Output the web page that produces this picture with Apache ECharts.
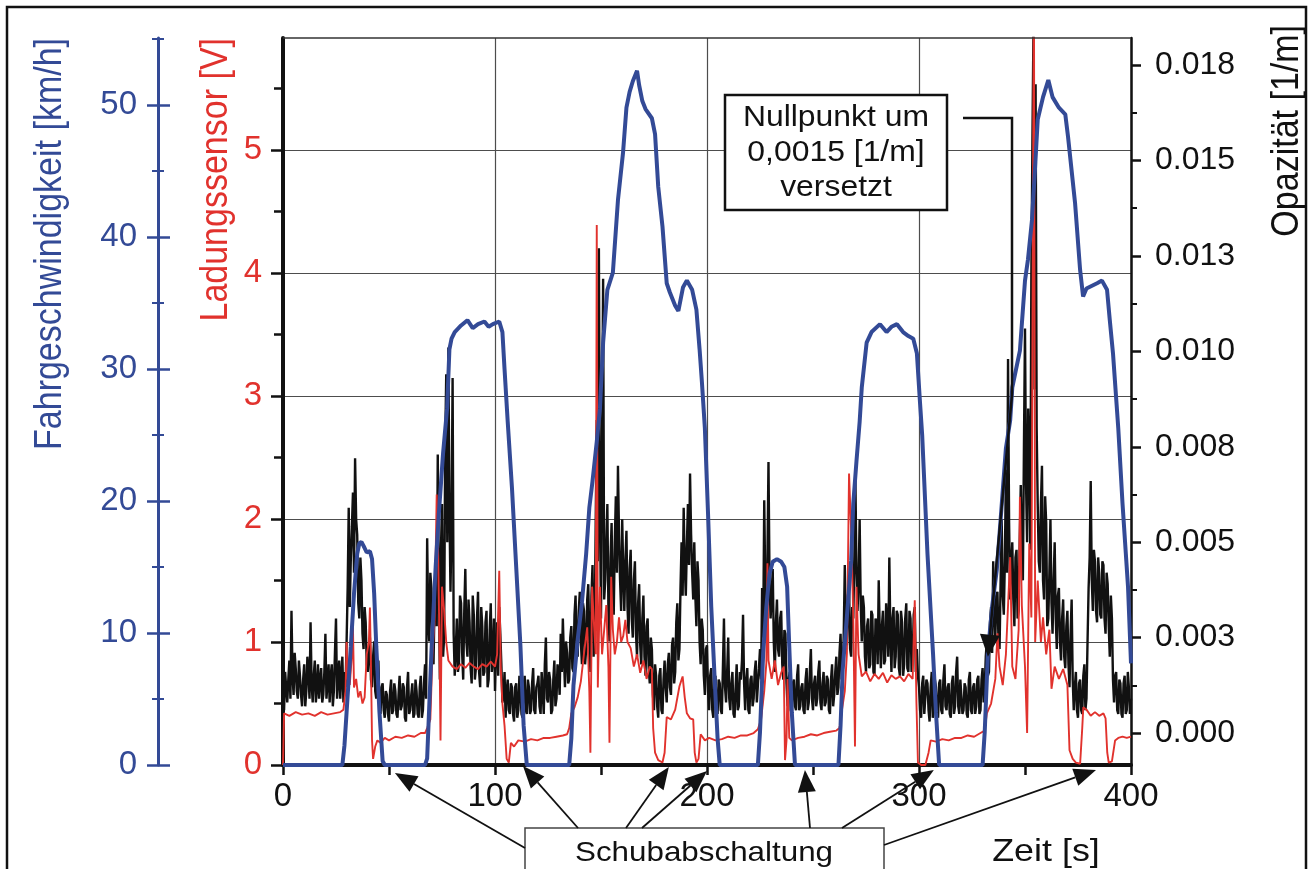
<!DOCTYPE html>
<html><head><meta charset="utf-8">
<script src="https://cdn.jsdelivr.net/npm/echarts@6/dist/echarts.min.js"></script>
<style>html,body{margin:0;padding:0;background:#fff;}#c{width:1312px;height:869px;}</style>
</head><body><div id="c"></div>
<script>
// ---------- data ----------
const timeTicks = [0, 100, 200, 300, 400];                 // s
const speedTicks = [0, 10, 20, 30, 40, 50];                 // km/h
const speedMinorTicks = [5, 15, 25, 35, 45, 55];
const chargeTicks = [0, 1, 2, 3, 4, 5];                     // V
const chargeMinorTicks = [0.5, 1.5, 2.5, 3.5, 4.5, 5.5];
const opacityTicks = [0, 2.5, 5, 7.5, 10, 12.5, 15, 17.5];  // 1e-3 1/m
const opacityTickLabels = ['0.000','0.003','0.005','0.008','0.010','0.013','0.015','0.018'];
const opacityMinorTicks = [1.25, 3.75, 6.25, 8.75, 11.25, 13.75, 16.25];

// vehicle speed [t s, km/h]
const speed = [
 [0,0],[28,0],[29,1.5],[30,4],[32,9],[33.5,13],[35,16],[36,16.8],[37,16.9],[38,16.6],[39.5,16.1],[41,16.2],[42,15.6],[43,13],[44,9],[45.5,4],[47,0.3],[48,0],
 [67,0],[68,0.5],[70,8.5],[72,15],[73.5,19],[75.5,23.6],[77.4,27],[78.5,31.5],[79.5,32.3],[81,32.8],[84,33.3],[87,33.7],[89.5,33.1],[92,33.4],[95,33.6],[97,33.2],[99,33.4],[102,33.6],[103.5,32.8],[104.5,30],[106,26],[108,21],[110,15],[112,9],[113.5,3],[115,0],
 [135,0],[136,2],[137,6],[139,9.5],[141,12.3],[143,16],[144.5,19.5],[146,21.5],[148,24.5],[149.5,27],[151,32],[153,36],[155.6,37.3],[158,42.8],[160.4,46.4],[162,49.8],[163.5,51],[165,51.8],[167,52.6],[168,51.5],[169.5,50.3],[171,49.7],[174,49],[175.5,47.8],[177,43.8],[179,40.8],[181,36.5],[182.5,35.8],[185,34.8],[186.5,34.4],[188.7,36.2],[190.5,36.7],[193,36],[195,34.5],[196.5,31.5],[197.6,29],[199,25.5],[200.5,19],[202,12],[203.8,5.9],[205,2],[206,0],
 [224,0],[225,2.5],[226.5,8.5],[228,12],[229.5,14.5],[231,15.4],[233,15.6],[235,15.4],[236.5,15],[237.8,13.5],[238.8,9],[240,4],[241.5,0],
 [262,0],[263,3],[264,7.2],[266.5,12.3],[268,15.5],[269,19.8],[270.5,23],[272,26],[273,28.6],[275.3,32],[277.6,32.8],[281.6,33.4],[284.7,32.8],[287,33.2],[289.6,33.4],[292.5,32.8],[295,32.5],[297.3,32.3],[299,31.2],[300.5,27.4],[301.5,25],[304,16],[306.6,8.5],[308,4],[309.5,0],
 [330,0],[331,2.5],[332.5,8.5],[334.5,12],[336.7,14.8],[338,17.5],[339.6,21],[341,24],[343,26.1],[344,28.6],[347.6,31.4],[350,36.7],[351.4,38.3],[353.3,41.3],[354.7,45.1],[356,48.9],[358.5,50.6],[361,51.9],[363,50.6],[366,49.8],[369,49.3],[370.3,47.6],[373.6,42.6],[376,37.5],[377.4,35.5],[379,36.1],[384,36.5],[386.3,36.7],[388.7,36],[390,33.7],[391.5,31.2],[394,25.5],[396,19.8],[398.6,13.5],[400,7.7]
];

// charge sensor [t s, V]
const charge = [
 [0,0],[0.5,0.42],[3,0.4],[6,0.43],[9,0.41],[12,0.42],[15,0.40],[18,0.43],[21,0.41],[24,0.42],[27,0.43],[28.5,0.45],[29.5,0.6],[30,1.0],[30.5,0.7],[31.5,0.65],[32.5,0.9],[33,1.12],[33.5,0.63],[34.5,0.7],[35.5,0.55],[36.5,0.6],[37.5,0.5],[38.5,0.55],[39.5,0.9],[40.5,1.0],[41,1.28],[41.5,0.8],[42,0.2],[42.5,0.05],[43.5,0.15],[44.5,0.2],[46,0.18],[48,0.22],[50,0.2],[53,0.23],[56,0.22],[59,0.24],[62,0.23],[65,0.26],[67,0.26],
 [68,0.3],[69.5,0.37],[70.5,0.9],[71.5,1.18],[72.5,2.2],[73.2,1.7],[73.8,1.0],[74.3,0.2],[75,1.45],[76,1.26],[77,1.0],[78,0.85],[80,0.8],[82,0.78],[84,0.82],[86,0.79],[88,0.83],[90,0.8],[92,0.78],[94,0.82],[96,0.8],[98,0.84],[100,0.8],[101,0.9],[102,1.58],[102.7,0.8],[103.5,0.5],[104.5,0.32],[105.5,0.05],[106.5,0.02],[107.5,0.18],[109,0.15],[111,0.2],[114,0.19],[117,0.21],[120,0.2],[123,0.22],[126,0.22],[129,0.23],[132,0.24],[134,0.25],
 [135,0.3],[136,0.42],[137.5,0.47],[139,0.55],[140.5,0.68],[142,0.91],[143.5,1.12],[144.5,0.6],[145,0.1],[145.8,1.45],[146.5,1.2],[147.5,0.9],[148,4.39],[148.5,0.63],[149.5,1.45],[150.5,0.9],[151.5,1.1],[152.5,1.3],[153.5,0.8],[154,0.18],[154.8,1.53],[155.6,1.1],[156.5,0.9],[157.5,1.0],[158.5,1.2],[159.5,1.0],[160.5,1.05],[161.5,1.18],[162.5,1.0],[164,0.95],[165.5,0.8],[167,0.9],[168.5,0.75],[170,0.85],[171.5,0.7],[173,0.8],[174,0.78],[174.6,0.3],[175.5,0.1],[177,0.04],[179,0.02],[180,0.1],[181,0.39],[183,0.37],[185,0.45],[187,0.64],[188.5,0.72],[189.5,0.55],[190.5,0.42],[192,0.38],[193.5,0.37],[194.2,0.1],[195,0.02],[196,0.05],[197,0.25],[199,0.2],[201,0.22],[204,0.2],[207,0.21],[210,0.23],[213,0.22],[216,0.24],[219,0.24],[222,0.26],
 [224,0.29],[225.5,0.37],[227,0.6],[228,0.83],[228.5,1.64],[229,0.85],[230.5,0.7],[232,0.85],[233.5,0.65],[235,0.75],[236.2,0.8],[236.8,0.04],[237.5,0.2],[238,0.7],[238.8,0.22],[240,0.2],[243,0.22],[246,0.23],[249,0.25],[252,0.24],[255,0.26],[258,0.27],[261,0.28],
 [262.5,0.3],[263.5,0.43],[265,0.6],[266,0.91],[267,2.37],[268,1.9],[269,1.2],[269.8,0.15],[270.5,1.45],[271.5,0.9],[273,0.72],[275,0.76],[277,0.68],[279,0.74],[281,0.7],[283,0.75],[285,0.67],[287,0.73],[289,0.7],[291,0.72],[293,0.68],[295,0.74],[297,0.7],[298,1.34],[298.8,0.5],[299.5,0.02],[301,0],[303,0],[304.5,0.1],[305.5,0.2],[308,0.19],[311,0.21],[314,0.2],[317,0.22],[320,0.22],[323,0.24],[326,0.23],[329,0.26],
 [331,0.28],[332,0.42],[334,0.5],[336,0.7],[337,1.07],[338,0.8],[339.5,0.65],[341,0.9],[343,1.69],[344,0.8],[345.5,0.7],[347,1.1],[347.6,2.18],[348.5,1.3],[350,0.8],[351,0.26],[352,1.8],[353,1.2],[354.2,6.5],[354.8,1.0],[356,1.5],[357.5,1.0],[358.5,1.2],[360,0.9],[361.5,1.1],[362.5,0.62],[364,0.8],[366,0.7],[368,0.78],[370,0.65],[371,0.12],[372.5,0.05],[374,0.02],[376,0.01],[377,0.3],[377.5,0.47],[379,0.45],[381,0.4],[383,0.43],[385,0.4],[387,0.42],[388,0.38],[388.8,0.1],[389.5,0.02],[391,0.03],[392.5,0.2],[394,0.22],[396,0.23],[398,0.22],[400,0.23]
];

// opacity, one value per whole second from t = 0 s, in 1e-3 1/m
const opacityStart = 0;
const opacity = [
 1.0,1.6,0.8,1.9,3.2,1.0,1.7,0.9,1.5,0.7,
 1.8,1.1,1.6,2.9,0.8,1.9,1.2,0.9,1.7,1.0,
 2.6,1.3,0.8,1.8,1.1,3.0,1.4,0.9,2.0,1.6,
 2.4,5.9,4.6,6.3,7.2,5.2,3.0,4.0,2.2,2.9,
 1.6,2.5,1.2,2.4,0.9,1.9,0.5,1.3,0.4,1.0,
 0.3,1.4,0.6,1.1,0.4,1.5,0.7,1.2,0.3,1.6,
 0.6,1.3,0.5,1.1,0.4,1.5,0.6,1.8,5.1,2.4,
 3.8,1.8,4.5,7.3,1.4,6.0,2.5,9.4,10.1,3.7,
 9.3,1.5,3.0,1.8,3.4,1.4,4.3,2.0,2.9,1.3,
 3.1,1.7,3.7,1.2,2.8,1.6,3.2,1.4,3.4,2.0,
 1.1,2.9,3.3,1.8,1.0,0.4,1.4,0.5,1.2,0.3,
 1.3,0.6,1.1,0.4,1.5,0.5,1.2,0.6,1.7,0.5,
 1.3,0.7,1.6,0.5,2.5,0.8,1.4,0.6,1.9,0.9,
 1.5,2.6,3.0,1.2,2.1,1.4,2.8,1.6,3.6,2.0,
 3.7,1.8,3.2,2.2,3.9,1.6,4.4,2.5,8.2,12.7,
 3.0,11.9,4.0,6.0,2.4,5.5,3.1,6.2,7.0,4.0,
 5.6,3.2,5.3,2.6,4.8,2.5,4.5,2.0,3.9,1.8,
 3.6,1.5,3.0,1.3,2.2,0.6,1.5,0.4,1.7,0.5,
 1.9,0.8,2.1,1.0,2.5,1.6,3.4,2.2,5.0,5.9,
 3.6,6.0,6.8,4.2,5.0,2.8,4.0,1.8,2.7,1.0,
 2.3,0.6,1.7,0.4,1.5,0.5,1.3,0.5,3.0,0.8,
 2.5,0.6,1.6,0.4,1.8,0.7,1.4,3.1,0.6,1.7,
 0.5,1.5,0.9,1.9,0.8,2.2,3.8,6.1,2.6,7.1,
 3.0,4.3,1.6,3.5,2.0,3.2,1.4,2.6,0.7,1.6,
 0.5,1.4,0.6,1.8,0.7,1.3,0.5,1.7,0.8,2.2,
 0.6,1.5,0.9,1.9,0.6,1.6,0.8,1.4,0.5,1.8,
 1.0,2.0,1.2,2.6,1.5,4.4,2.3,3.9,2.0,3.0,
 6.7,3.2,5.6,2.4,3.3,1.6,3.0,1.8,3.1,1.5,
 2.9,4.0,1.7,3.2,1.9,2.8,4.6,1.6,3.3,2.0,
 3.1,1.5,2.9,1.8,3.4,1.6,3.0,1.9,3.3,2.2,
 1.2,0.4,1.5,0.5,1.3,0.3,1.6,0.6,1.2,0.4,
 1.4,0.5,1.8,0.6,1.3,0.4,1.5,0.7,2.0,0.5,
 1.4,0.6,1.2,0.4,1.6,0.5,1.3,0.7,1.5,0.6,
 1.7,1.2,2.4,1.6,3.3,4.5,2.5,3.7,2.2,5.6,
 3.1,6.9,9.8,3.5,5.0,2.8,4.8,3.2,6.5,4.0,
 10.6,5.0,7.5,12.0,18.5,17.0,6.0,4.2,7.0,3.5,
 5.5,3.0,5.6,2.6,5.0,2.2,3.8,1.9,3.5,1.7,
 3.2,1.2,3.5,0.6,1.6,0.4,1.4,0.5,1.8,0.9,
 3.8,6.6,3.2,4.5,2.9,4.2,3.0,4.4,2.6,3.9,
 2.0,3.0,0.8,1.6,0.5,1.3,0.4,1.5,0.6,1.2,
 0.9
];
// opacity at the half seconds t = 0.5 ... 399.5 s, in 1e-3 1/m
const opacityHalf = [
 0.6,1.2,1.4,0.9,1.5,2.1,1.1,1.9,1.0,1.4,
 0.7,2.0,0.9,1.3,1.5,0.8,1.8,1.4,0.8,1.6,
 0.9,1.8,1.5,0.7,2.1,0.9,1.9,1.5,0.8,1.2,
 3.8,3.3,5.4,4.2,5.6,3.4,4.6,2.6,3.3,1.8,
 2.1,1.4,2.0,1.1,1.5,0.7,1.2,0.6,1.1,0.5,
 1.1,0.5,1.3,0.5,1.0,0.6,1.3,0.4,1.2,0.5,
 1.0,0.4,1.4,0.5,1.2,0.4,1.3,0.9,3.0,4.2,
 2.2,3.5,2.8,4.0,4.8,2.0,7.5,5.0,6.0,5.5,
 2.6,2.2,1.6,3.6,2.1,3.2,2.4,3.5,1.7,3.6,
 1.4,3.0,1.6,3.3,1.5,2.9,1.2,2.7,1.6,3.0,
 2.2,1.5,2.6,0.8,1.6,1.1,0.6,1.3,0.5,1.2,
 0.4,1.5,0.5,1.2,0.6,1.4,0.5,1.3,0.6,1.2,
 1.5,0.5,1.1,1.8,0.9,1.6,0.5,1.4,0.7,1.8,
 1.0,1.6,2.0,2.4,1.3,2.5,1.7,3.1,2.2,3.2,
 2.4,3.4,1.8,3.5,2.4,3.6,2.0,5.5,4.5,6.0,
 7.5,3.5,5.0,3.2,4.6,3.5,5.0,4.2,5.2,3.2,
 4.2,4.5,3.3,4.3,3.0,4.0,2.6,3.4,2.3,3.0,
 2.0,2.8,1.7,2.5,1.0,1.8,0.7,1.5,0.6,1.4,
 1.2,1.8,1.2,2.3,1.3,2.9,1.9,3.8,3.6,4.4,
 4.9,4.4,5.2,3.5,3.6,4.5,2.4,3.0,1.5,2.2,
 1.1,1.5,0.6,1.3,0.6,1.4,0.6,1.7,1.2,1.6,
 0.9,1.3,0.5,1.2,0.6,1.6,1.9,1.3,1.4,0.6,
 1.4,0.7,1.6,0.8,1.7,1.4,2.5,3.8,4.5,4.0,
 3.6,2.4,2.9,2.2,3.0,1.8,2.7,1.3,1.4,0.6,
 1.3,0.7,1.5,0.6,1.2,0.6,1.4,0.6,1.6,0.9,
 1.3,0.7,1.6,0.8,1.3,0.7,1.5,0.6,1.4,0.7,
 1.6,1.0,2.1,1.4,2.6,2.5,3.6,2.2,3.3,4.6,
 4.2,4.0,3.4,3.6,2.0,2.8,1.7,3.2,1.6,3.0,
 1.8,2.6,2.8,1.8,3.4,2.0,2.6,3.0,1.7,3.2,
 1.7,3.2,1.5,3.0,1.7,3.2,1.6,3.1,1.6,1.5,
 0.6,1.3,0.5,1.4,0.6,1.2,0.4,1.4,0.6,1.3,
 0.6,1.4,0.7,1.2,0.5,1.3,0.5,1.6,0.7,1.4,
 0.5,1.3,0.5,1.4,0.6,1.2,0.5,1.4,0.5,1.4,
 0.8,2.0,1.5,2.9,2.1,3.2,3.6,2.4,4.0,3.6,
 4.5,4.2,5.5,4.4,3.5,4.6,3.0,5.0,4.8,7.5,
 6.5,8.5,4.8,15.5,9.0,8.0,4.5,6.0,4.0,6.2,
 2.8,4.2,3.4,4.0,3.0,3.6,2.4,3.0,2.0,2.8,
 1.8,2.6,1.4,1.2,0.6,1.3,0.6,1.5,0.6,2.4,
 4.6,4.0,4.8,3.2,4.6,3.1,4.5,3.0,4.2,2.8,
 3.6,1.4,1.5,0.6,1.4,0.5,1.3,0.5,1.6,0.5
];

// annotation anchors
const schubTimes = [52.8, 113.2, 182, 200, 246.2, 307, 383.5];      // s, arrow tips on the time axis
const nullpunktTip = [332.5, 2.0];                                   // s, 1e-3 1/m

// ---------- chart ----------
const FONT = "'Liberation Sans', Arial, Helvetica, sans-serif";
const BLUE = '#334a96', RED = '#e1322d', BLACK = '#111111', GRIDC = '#4d4d4d';
const W = 1312, H = 869;
const G = { left: 283, right: W - 1131, top: 38, bottom: H - 765 };
const RANGE = { charge: [0, 5.911], speed: [0, 55.08], opacity: [-0.838, 18.21] };

const opacityData = [];
opacity.forEach((v, i) => {
  opacityData.push([opacityStart + i, v]);
  if (i < opacityHalf.length) opacityData.push([opacityStart + i + 0.5, opacityHalf[i]]);
});

const chart = echarts.init(document.getElementById('c'), null, { renderer: 'canvas', width: W, height: H });

function tickAxis(pos, offset, range, values, len, inside, color, width) {
  return {
    type: 'value', position: pos, offset: offset, min: range[0], max: range[1],
    axisLine: { show: false },
    axisTick: { show: true, customValues: values, inside: inside, length: len, lineStyle: { color: color, width: width } },
    axisLabel: { show: false }, splitLine: { show: false }, minorTick: { show: false }
  };
}

const yAxes = [
  { // 0 charge sensor (main, grid lines)
    type: 'value', position: 'left', offset: 0, min: RANGE.charge[0], max: RANGE.charge[1],
    axisLine: { show: true, lineStyle: { color: BLACK, width: 4 } },
    axisTick: { show: true, customValues: chargeTicks, length: 12, lineStyle: { color: BLACK, width: 2.5 } },
    axisLabel: { customValues: chargeTicks, color: RED, fontSize: 33, fontFamily: FONT, margin: 21 },
    splitLine: { show: true, lineStyle: { color: GRIDC, width: 1.2 } }
  },
  tickAxis('left', 0, RANGE.charge, chargeMinorTicks, 9, false, BLACK, 2.5), // 1
  { // 2 speed
    type: 'value', position: 'left', offset: 125, min: RANGE.speed[0], max: RANGE.speed[1],
    axisLine: { show: true, lineStyle: { color: BLUE, width: 3 } },
    axisTick: { show: true, customValues: speedTicks, length: 11, lineStyle: { color: BLUE, width: 2.5 } },
    axisLabel: { customValues: speedTicks, color: BLUE, fontSize: 33, fontFamily: FONT, margin: 21 },
    splitLine: { show: false }
  },
  tickAxis('left', 125, RANGE.speed, speedTicks, 12, true, BLUE, 2.5),        // 3
  tickAxis('left', 125, RANGE.speed, speedMinorTicks, 6, false, BLUE, 2),     // 4
  tickAxis('left', 125, RANGE.speed, speedMinorTicks, 6, true, BLUE, 2),      // 5
  { // 6 opacity
    type: 'value', position: 'right', offset: 0, min: RANGE.opacity[0], max: RANGE.opacity[1],
    axisLine: { show: true, lineStyle: { color: BLACK, width: 2.5 } },
    axisTick: { show: true, customValues: opacityTicks, length: 10, lineStyle: { color: BLACK, width: 2.5 } },
    axisLabel: { customValues: opacityTicks, color: BLACK, fontSize: 32, fontFamily: FONT, margin: 24,
      formatter: v => { const i = opacityTicks.indexOf(v); return i >= 0 ? opacityTickLabels[i] : ''; } },
    splitLine: { show: false }
  },
  tickAxis('right', 0, RANGE.opacity, opacityMinorTicks, 6, false, BLACK, 2) // 7
];

chart.setOption({
  animation: false,
  backgroundColor: '#fff',
  grid: { left: G.left, right: G.right, top: G.top, bottom: G.bottom, containLabel: false },
  xAxis: {
    type: 'value', min: timeTicks[0], max: timeTicks[timeTicks.length - 1], interval: 100,
    axisLine: { show: true, lineStyle: { color: BLACK, width: 4 } },
    axisTick: { show: true, length: 10, lineStyle: { color: BLACK, width: 2.5 } },
    minorTick: { show: true, splitNumber: 2, length: 10, lineStyle: { color: BLACK, width: 2.5 } },
    axisLabel: { color: BLACK, fontSize: 33, fontFamily: FONT, margin: 15 },
    splitLine: { show: true, lineStyle: { color: GRIDC, width: 1.2 } }
  },
  yAxis: yAxes,
  series: [
    { type: 'line', name: 'Opazität', yAxisIndex: 6, symbol: 'none', z: 2, sampling: null,
      data: opacityData, lineStyle: { color: BLACK, width: 2.4 } },
    { type: 'line', name: 'Ladungssensor', yAxisIndex: 0, symbol: 'none', z: 3,
      data: charge, lineStyle: { color: RED, width: 1.9 } },
    { type: 'line', name: 'Fahrgeschwindigkeit', yAxisIndex: 2, symbol: 'none', z: 4,
      data: speed, lineStyle: { color: BLUE, width: 4 } }
  ]
});

// ---------- annotations ----------
function arrow(x1, y1, x2, y2, L, hw, color, lw) {
  const dx = x2 - x1, dy = y2 - y1, d = Math.hypot(dx, dy), ux = dx / d, uy = dy / d;
  const bx = x2 - ux * L, by = y2 - uy * L, px = -uy, py = ux;
  return [
    { type: 'line', z: 100, shape: { x1: x1, y1: y1, x2: bx, y2: by }, style: { stroke: color, lineWidth: lw } },
    { type: 'polygon', z: 100, shape: { points: [[x2, y2], [bx + px * hw, by + py * hw], [bx - px * hw, by - py * hw]] }, style: { fill: color } }
  ];
}

const xPix = t => chart.convertToPixel({ xAxisIndex: 0 }, t);
const axisY = H - G.bottom;
const graphics = [];

// outer frame and top border of plot
graphics.push({ type: 'rect', z: 90, shape: { x: 7, y: 7, width: 1299, height: 890 }, style: { fill: 'none', stroke: BLACK, lineWidth: 2.5 } });
graphics.push({ type: 'line', z: 5, shape: { x1: G.left, y1: G.top, x2: W - G.right, y2: G.top }, style: { stroke: '#333', lineWidth: 1.5 } });

// axis titles
function vTitle(text, x, yTop, color) {
  return { type: 'text', z: 100, x: x, y: yTop, rotation: Math.PI / 2, scaleY: 1.12,
    style: { text: text, fill: color, font: '34px ' + FONT, align: 'right', verticalAlign: 'middle' } };
}
graphics.push(vTitle('Fahrgeschwindigkeit [km/h]', 50, 38, BLUE));
graphics.push(vTitle('Ladungssensor [V]', 216, 38, RED));
graphics.push(vTitle('Opazität [1/m]', 1287, 25, BLACK));

// "Nullpunkt" box with leader
graphics.push({ type: 'rect', z: 100, shape: { x: 725, y: 95, width: 222, height: 115 }, style: { fill: '#fff', stroke: BLACK, lineWidth: 2.5 } });
graphics.push({ type: 'text', z: 101, x: 836, y: 153, scaleX: 1.1,
  style: { text: 'Nullpunkt um\n0,0015 [1/m]\nversetzt', fill: BLACK, font: '29px ' + FONT, align: 'center', verticalAlign: 'middle', lineHeight: 35 } });
const tip = chart.convertToPixel({ xAxisIndex: 0, yAxisIndex: 6 }, nullpunktTip);
graphics.push({ type: 'polyline', z: 100, shape: { points: [[963, 118], [1012, 118], [1012, 395]] }, style: { stroke: BLACK, lineWidth: 2.5, fill: 'none' } });
arrow(1012, 395, tip[0], tip[1], 22, 10, BLACK, 2.5).forEach(g => graphics.push(g));

// "Schubabschaltung" box with arrows
graphics.push({ type: 'rect', z: 100, shape: { x: 525, y: 828, width: 359, height: 70 }, style: { fill: '#fff', stroke: '#444', lineWidth: 1.5 } });
graphics.push({ type: 'text', z: 101, x: 704, y: 853, scaleX: 1.12,
  style: { text: 'Schubabschaltung', fill: BLACK, font: '28px ' + FONT, align: 'center', verticalAlign: 'middle' } });
const starts = [[525, 848], [578, 828], [626, 828], [642, 828], [810, 828], [842, 828], [884, 845]];
const tipDy = [8, 1, 2, 6, 5, 5, 5];
schubTimes.forEach((t, i) => {
  arrow(starts[i][0], starts[i][1], xPix(t), axisY + tipDy[i], 22, 9, BLACK, 1.8).forEach(g => graphics.push(g));
});

// x-axis title
graphics.push({ type: 'text', z: 101, x: 1046, y: 852, scaleX: 1.12,
  style: { text: 'Zeit [s]', fill: BLACK, font: '32px ' + FONT, align: 'center', verticalAlign: 'middle' } });

chart.setOption({ graphic: { elements: graphics } });
</script>
</body></html>
